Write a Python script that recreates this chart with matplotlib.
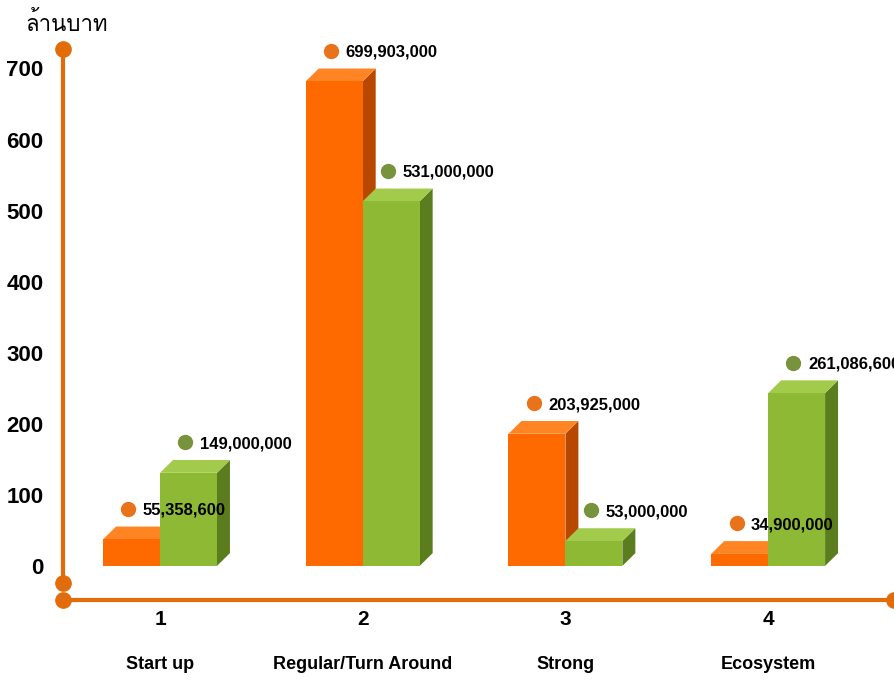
import matplotlib
matplotlib.use("Agg")
import matplotlib.pyplot as plt
from matplotlib.patches import Polygon
from matplotlib import font_manager, ft2font

# data (baht)
categories = ["Start up", "Regular/Turn Around", "Strong", "Ecosystem"]
cat_numbers = ["1", "2", "3", "4"]
orange_vals = [55358600, 699903000, 203925000, 34900000]
green_vals = [149000000, 531000000, 53000000, 261086600]
y_ticks = [0, 100, 200, 300, 400, 500, 600, 700]
unit_label = "ล้านบาท"


def find_font(ch):
    for f in font_manager.fontManager.ttflist:
        try:
            if ord(ch) in ft2font.FT2Font(f.fname).get_charmap():
                return f.name
        except Exception:
            pass
    return None


thai = find_font("ล")
fam = [thai, "DejaVu Sans"] if thai else ["DejaVu Sans"]
plt.rcParams["font.family"] = ["Liberation Sans", "DejaVu Sans"]

AXIS = "#E36C0A"
OR_FRONT, OR_SIDE, OR_TOP = "#FF6A00", "#B84800", "#FF8424"
GR_FRONT, GR_SIDE, GR_TOP = "#8DB935", "#5C7D1E", "#A2CB4C"
OR_DOT, GR_DOT = "#E8731A", "#77933C"

fig = plt.figure(figsize=(8.94, 6.83), dpi=100)
ax = fig.add_axes([0.0705, 0.1215, 0.9295, 0.8199])
xl, xr = -0.4785, 3.621
ax.set_xlim(xl, xr)
ax.set_ylim(-48, 740)
for s in ax.spines.values():
    s.set_visible(False)

w = 0.281      # bar width
dx, dy = 0.064, 18   # depth offset


def bar3d(x0, v, front, side, top):
    x1 = x0 + w
    ax.add_patch(Polygon([(x1, 0), (x1 + dx, dy), (x1 + dx, v), (x1, v - dy)],
                         closed=True, fc=side, ec="none"))
    ax.add_patch(Polygon([(x0, v - dy), (x1, v - dy), (x1 + dx, v), (x0 + dx, v)],
                         closed=True, fc=top, ec="none"))
    ax.bar(x0, v - dy, width=w, align="edge", color=front, edgecolor="none")


for i in range(len(categories)):
    vo = orange_vals[i] / 1e6
    vg = green_vals[i] / 1e6
    bar3d(i - w, vo, OR_FRONT, OR_SIDE, OR_TOP)
    bar3d(i, vg, GR_FRONT, GR_SIDE, GR_TOP)
    for x0, v, raw, dc in [(i - w, vo, orange_vals[i], OR_DOT), (i, vg, green_vals[i], GR_DOT)]:
        ax.plot(x0 + 0.125, v + 25, "o", ms=10, color=dc, clip_on=False)
        ax.text(x0 + 0.197, v + 23, f"{raw:,}", fontsize=12, fontweight="bold",
                va="center", ha="left", clip_on=False)
    ax.text(i, -76, cat_numbers[i], fontsize=15, fontweight="bold", ha="center", va="center")
    ax.text(i, -139, categories[i], fontsize=13, fontweight="bold", ha="center", va="center")

# axes lines with dot ends
ax.plot([xl, xl], [-24, 728], color=AXIS, lw=3, clip_on=False, solid_capstyle="butt")
ax.plot([xl, xr], [-48, -48], color=AXIS, lw=3, clip_on=False)
ax.plot([xl, xl, xl, xr], [728, -24, -48, -48], "o", ms=11, color=AXIS, clip_on=False)

ax.set_xticks([])
ax.set_yticks(y_ticks)
ax.set_yticklabels([str(t) for t in y_ticks], fontsize=16, fontweight="bold")
ax.tick_params(axis="y", length=0, pad=14)

fig.text(0.028, 0.965, unit_label, family=fam, fontsize=16,
         ha="left", va="center")

fig.savefig("out.png", dpi=100)
